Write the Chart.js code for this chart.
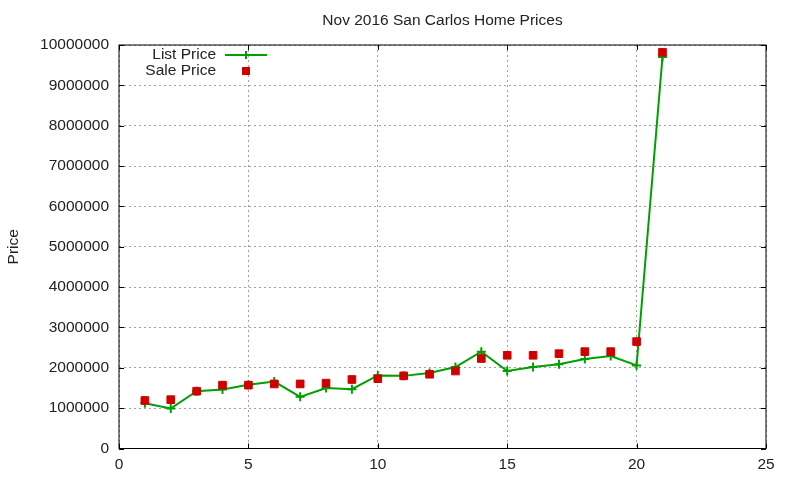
<!DOCTYPE html>
<html>
<head>
<meta charset="utf-8">
<script src="https://cdn.jsdelivr.net/npm/chart.js@4.4.0/dist/chart.umd.min.js"></script>
<style>
  html, body { margin: 0; padding: 0; background: #fff; }
  #wrap { width: 800px; height: 480px; }
</style>
</head>
<body>
<div id="wrap"><canvas id="homes"></canvas></div>
<script>
// house number on the x axis, prices
const houses = [1, 2, 3, 4, 5, 6, 7, 8, 9, 10, 11, 12, 13, 14, 15, 16, 17, 18, 19, 20, 21];
const listPrice = [1120000, 990000, 1420000, 1460000, 1580000, 1660000, 1280000, 1500000, 1470000, 1810000,
  1800000, 1870000, 2020000, 2400000, 1920000, 2020000, 2090000, 2220000, 2290000, 2060000, 9700000];
const salePrice = [1190000, 1210000, 1420000, 1570000, 1570000, 1600000, 1600000, 1620000, 1710000, 1730000,
  1800000, 1840000, 1920000, 2230000, 2310000, 2310000, 2350000, 2400000, 2400000, 2650000, 9820000];
const xTicks = [0, 5, 10, 15, 20, 25];
const yTicks = [0, 1000000, 2000000, 3000000, 4000000, 5000000, 6000000, 7000000, 8000000, 9000000, 10000000];

const FONT = 'Liberation Sans, Arial, sans-serif';
const GREEN = '#00a000';
const RED = '#d00000';

const toPts = (vals) => houses.map((h, i) => ({ x: h, y: vals[i] }));

// gnuplot look: black border, inward ticks, title, key in the top left
const gnuplotFrame = {
  id: 'gnuplotFrame',
  afterDatasetsDraw(chart) {
    const { ctx, chartArea: a, scales } = chart;
    ctx.save();
    ctx.strokeStyle = '#000';
    ctx.lineWidth = 1;
    ctx.strokeRect(a.left, a.top, a.right - a.left, a.bottom - a.top);
    ctx.beginPath();
    xTicks.forEach(t => {
      const px = Math.round(scales.x.getPixelForValue(t)) + 0.5;
      ctx.moveTo(px, a.bottom); ctx.lineTo(px, a.bottom - 5);
      ctx.moveTo(px, a.top); ctx.lineTo(px, a.top + 5);
    });
    yTicks.forEach(t => {
      const py = Math.round(scales.y.getPixelForValue(t)) + 0.5;
      ctx.moveTo(a.left, py); ctx.lineTo(a.left + 5, py);
      ctx.moveTo(a.right, py); ctx.lineTo(a.right - 5, py);
    });
    ctx.stroke();

    // title
    ctx.fillStyle = '#222';
    ctx.font = '15.5px ' + FONT;
    ctx.textAlign = 'center';
    ctx.textBaseline = 'middle';
    ctx.fillText('Nov 2016 San Carlos Home Prices', (a.left + a.right) / 2, 21);

    // key
    const ds = chart.data.datasets;
    ctx.textAlign = 'right';
    ctx.fillText(ds[0].label, 216, 55);
    ctx.fillText(ds[1].label, 216, 71);
    ctx.strokeStyle = GREEN;
    ctx.lineWidth = 2;
    ctx.beginPath();
    ctx.moveTo(225, 55); ctx.lineTo(267, 55);
    ctx.moveTo(246, 51); ctx.lineTo(246, 59);
    ctx.stroke();
    ctx.fillStyle = RED;
    ctx.fillRect(242, 67, 8, 8);
    ctx.restore();
  }
};

new Chart(document.getElementById('homes'), {
  type: 'scatter',
  data: {
    datasets: [{
      label: 'List Price',
      data: toPts(listPrice),
      showLine: true,
      borderColor: GREEN,
      backgroundColor: GREEN,
      borderWidth: 2,
      pointStyle: 'cross',
      pointRadius: 4.5,
      pointBorderWidth: 2,
      order: 2
    }, {
      label: 'Sale Price',
      data: toPts(salePrice),
      showLine: false,
      borderColor: RED,
      backgroundColor: RED,
      pointStyle: 'rect',
      pointRadius: 5.4,
      pointBorderWidth: 1,
      order: 1
    }]
  },
  options: {
    responsive: true,
    maintainAspectRatio: false,
    animation: false,
    layout: { padding: { top: 45, right: 34, left: 0, bottom: 0 } },
    plugins: {
      legend: { display: false },
      tooltip: { enabled: false },
      title: { display: false }
    },
    scales: {
      x: {
        type: 'linear',
        min: 0,
        max: 25,
        afterBuildTicks: (s) => { s.ticks = xTicks.map(v => ({ value: v })); },
        afterFit: (s) => { s.height = 31.5; },
        grid: { color: '#a0a0a0', lineWidth: 1, drawTicks: false },
        border: { display: false, dash: [2, 3] },
        ticks: { color: '#222', font: { family: FONT, size: 15.5 }, padding: 7, maxRotation: 0 }
      },
      y: {
        min: 0,
        max: 10000000,
        afterBuildTicks: (s) => { s.ticks = yTicks.map(v => ({ value: v })); },
        afterFit: (s) => { s.width = 119; },
        grid: { color: '#a0a0a0', lineWidth: 1, drawTicks: false },
        border: { display: false, dash: [2, 3] },
        ticks: { color: '#222', font: { family: FONT, size: 15.5 }, padding: 10, callback: (v) => String(v) },
        title: { display: true, text: 'Price', color: '#222', font: { family: FONT, size: 15.5 }, padding: { top: 4, bottom: 0 } }
      }
    }
  },
  plugins: [gnuplotFrame]
});
</script>
</body>
</html>
